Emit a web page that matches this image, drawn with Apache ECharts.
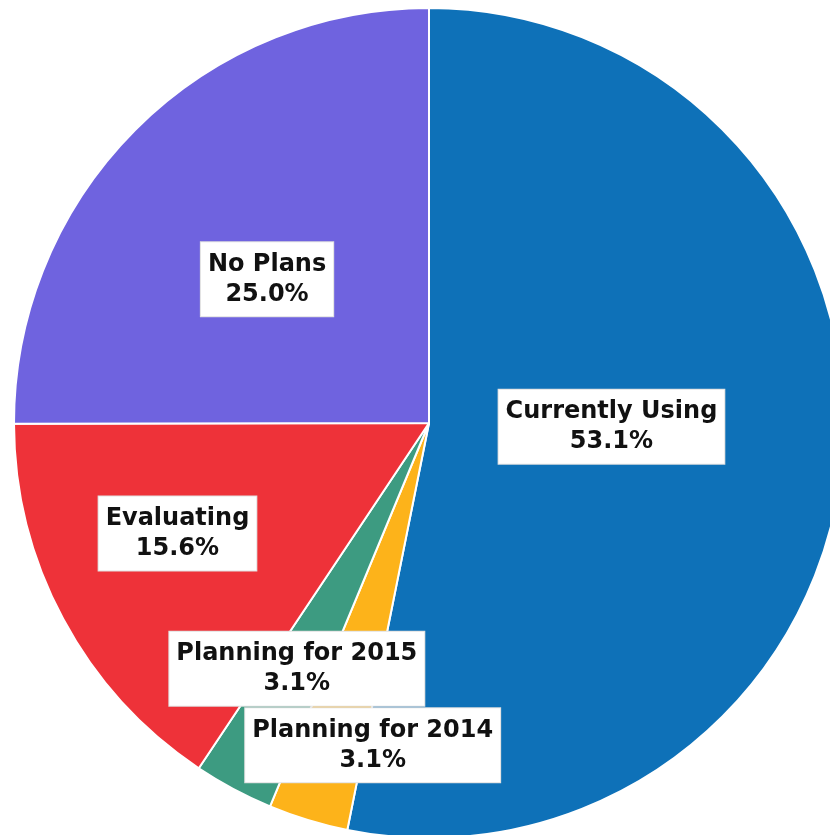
<!DOCTYPE html>
<html>
<head>
<meta charset="utf-8">
<script src="https://cdn.jsdelivr.net/npm/echarts@6/dist/echarts.min.js"></script>
<style>
  html, body { margin: 0; padding: 0; background: #ffffff; }
  #chart { width: 830px; height: 835px; }
</style>
</head>
<body>
<div id="chart"></div>
<script>
// Adoption status shares (percent), clockwise from 12 o'clock
const categories = ['Currently Using', 'Planning for 2014', 'Planning for 2015', 'Evaluating', 'No Plans'];
const shares = [53.1, 3.1, 3.1, 15.6, 25.0];
const sliceColors = ['#0E71B8', '#FDB31A', '#3D9B81', '#EE3239', '#6F63DF'];

// Nudges of each label away from the slice's default inner anchor
const labelNudge = [[-27, -17], [5, 121], [-33, 60], [-66, 11], [-13, 5]];

const chart = echarts.init(document.getElementById('chart'), null, { renderer: 'canvas' });

chart.setOption({
  animation: false,
  series: [{
    type: 'pie',
    center: [429, 423],
    radius: 415,
    startAngle: 90,
    clockwise: true,
    avoidLabelOverlap: false,
    data: categories.map((name, i) => ({
      name: name,
      value: shares[i],
      itemStyle: { color: sliceColors[i] }
    })),
    itemStyle: { borderColor: '#ffffff', borderWidth: 2 },
    label: {
      show: true,
      position: 'inside',
      formatter: p => p.name + '\n' + p.value.toFixed(1) + '%',
      color: '#111111',
      fontFamily: 'DejaVu Sans',
      fontWeight: 'bold',
      fontSize: 24,
      lineHeight: 30,
      align: 'center',
      backgroundColor: '#ffffff',
      borderColor: '#e0e0e0',
      borderWidth: 1,
      padding: [7, 7, 7, 7]
    },
    labelLine: { show: false },
    labelLayout: p => ({ dx: labelNudge[p.dataIndex][0], dy: labelNudge[p.dataIndex][1] }),
    emphasis: { disabled: true }
  }]
});
</script>
</body>
</html>
